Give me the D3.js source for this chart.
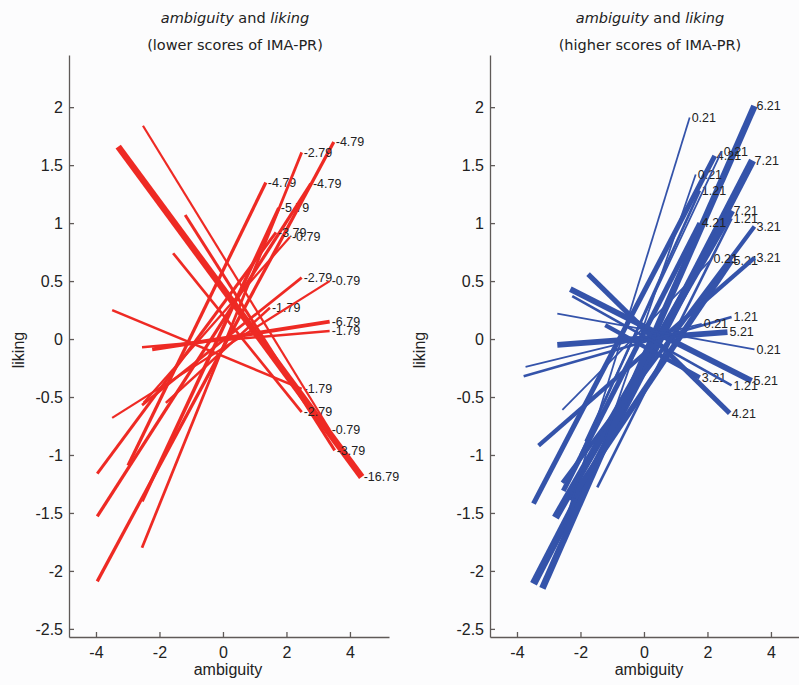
<!DOCTYPE html>
<html>
<head>
<meta charset="utf-8">
<script src="https://cdn.jsdelivr.net/npm/d3@7"></script>
<style>
body{margin:0;background:#fcfcfd;}
svg{display:block;}
.tick text{font-family:"Liberation Sans",Arial,sans-serif;font-size:16px;fill:#222;}
.lbl{font-family:"Liberation Sans",Arial,sans-serif;font-size:12.5px;fill:#222;}
.ttl{font-family:"DejaVu Sans",Verdana,sans-serif;font-size:14.5px;fill:#222;}
.axl{font-family:"Liberation Sans",Arial,sans-serif;font-size:16px;fill:#222;}
</style>
</head>
<body>
<div id="chart"></div>
<script>
//lower scores of IMA-PR (panel izq, rojo)
var lowX0 = [-3.96, -2.55, -2.55, -2.99, -3.96, -3.96, -2.50, -3.49, -2.55, -1.80, -3.30, -2.52, -1.19, -1.57, -3.49, -2.55, -2.23]
var lowY0 = [-2.09, -1.80, -1.40, -1.09, -1.53, -1.16, -0.55, -0.68, -0.57, -0.55, 1.66, 1.84, 1.07, 0.74, 0.25, -0.07, -0.09]
var lowX1 = [3.49, 2.48, 1.76, 1.35, 2.77, 1.67, 2.11, 3.36, 2.48, 1.48, 4.37, 3.36, 3.52, 2.48, 2.48, 3.36, 3.36]
var lowY1 = [1.70, 1.61, 1.13, 1.35, 1.34, 0.92, 0.88, 0.50, 0.53, 0.27, -1.19, -0.78, -0.96, -0.63, -0.43, 0.07, 0.15]
var lowScore = [-4.79, -2.79, -5.79, -4.79, -4.79, -3.79, -0.79, -0.79, -2.79, -1.79, -16.79, -0.79, -3.79, -2.79, -1.79, -1.79, -6.79]

//higher scores of IMA-PR (panel dcho, azul)
var highX0 = [-3.20, -3.48, -2.79, -3.48, -2.54, -2.32, -2.57, -3.32, -1.47, -2.54, -1.63, -2.00, -1.85, -2.57, -3.79, -3.73, -2.73, -2.73, -1.76, -2.32, -2.26, -1.22]
var highY0 = [-2.15, -2.11, -1.54, -1.42, -1.31, -1.39, -1.24, -0.92, -1.28, -1.63, -1.18, -1.00, -0.88, -0.61, -0.32, -0.24, -0.05, 0.22, 0.56, 0.43, 0.37, 0.12]
var highX1 = [3.48, 3.42, 2.76, 2.23, 1.76, 2.76, 3.48, 3.48, 2.76, 1.44, 1.63, 1.76, 2.45, 2.13, 2.76, 1.82, 2.63, 3.48, 2.70, 3.39, 2.76, 1.76]
var highY1 = [2.01, 1.54, 1.11, 1.58, 1.00, 0.68, 0.97, 0.70, 1.04, 1.91, 1.42, 1.28, 1.62, 0.69, 0.19, 0.13, 0.06, -0.09, -0.64, -0.36, -0.40, -0.33]
var highScore = [6.21, 7.21, 7.21, 4.21, 4.21, 5.21, 3.21, 3.21, 1.21, 0.21, 0.21, 1.21, 0.21, 0.21, 1.21, 0.21, 5.21, 0.21, 4.21, 5.21, 1.21, 3.21]

var xTicks = [-4, -2, 0, 2, 4]
var yTicks = [-2.5, -2, -1.5, -1, -0.5, 0, 0.5, 1, 1.5, 2]

var width = 799, height = 685

var svg = d3.select("#chart")
    .append("svg")
    .attr("width", width)
    .attr("height", height)

function panel(cfg){
    var datos = cfg.x0.map((d,i)=>({x0:d, y0:cfg.y0[i], x1:cfg.x1[i], y1:cfg.y1[i], s:cfg.score[i]}))

    var escalaX = d3.scaleLinear()
        .domain([-4.85, 5.23])
        .range([cfg.left, cfg.left + 320])
    var escalaY = d3.scaleLinear()
        .domain([-2.57, 2.45])
        .range([637, 55])
    //grosor de cada linea segun la puntuacion (valor absoluto)
    var grosor = d3.scaleLinear()
        .domain([0, d3.max(datos, d=>Math.abs(d.s))])
        .range([cfg.wmin, cfg.wmax])

//Ejes
    var ejeX = d3.axisBottom(escalaX)
        .tickValues(xTicks)
        .tickFormat(d=>String(d))
        .tickSizeInner(-5).tickSizeOuter(0).tickPadding(10)
    var ejeY = d3.axisLeft(escalaY)
        .tickValues(yTicks)
        .tickFormat(d=>String(d))
        .tickSizeInner(-5).tickSizeOuter(0).tickPadding(6)

    var gx = svg.append("g")
        .attr("transform","translate(0,637)")
        .call(ejeX)
    var gy = svg.append("g")
        .attr("transform","translate("+cfg.left+",0)")
        .call(ejeY)
    svg.selectAll(".domain, .tick line").attr("stroke", "#5f5a58").attr("stroke-width", 1.3)
    gx.selectAll("text").attr("font-size", null)
    gy.selectAll("text").attr("font-size", null)

//Lineas (las gruesas primero)
    var orden = datos.slice().sort((a,b)=>Math.abs(b.s)-Math.abs(a.s))
    var g = svg.append("g")
    orden.forEach(d=>{
        g.append("line")
            .attr("x1", escalaX(d.x0)).attr("y1", escalaY(d.y0))
            .attr("x2", escalaX(d.x1)).attr("y2", escalaY(d.y1))
            .attr("stroke", cfg.color)
            .attr("stroke-width", grosor(Math.abs(d.s)))
        g.append("text")
            .attr("class","lbl")
            .attr("x", escalaX(d.x1) + 2)
            .attr("y", escalaY(d.y1))
            .attr("dy", "0.35em")
            .text(d.s.toFixed(2))
    })

//Titulos
    var t = svg.append("text")
        .attr("class","ttl")
        .attr("x", cfg.mid).attr("y", 23)
        .attr("text-anchor","middle")
    t.append("tspan").attr("font-style","italic").text("ambiguity")
    t.append("tspan").text(" and ")
    t.append("tspan").attr("font-style","italic").text("liking")
    svg.append("text")
        .attr("class","ttl")
        .attr("x", cfg.mid).attr("y", 50)
        .attr("text-anchor","middle")
        .text(cfg.sub)

    svg.append("text")
        .attr("class","axl")
        .attr("x", escalaX(0) + 5).attr("y", 675)
        .attr("text-anchor","middle")
        .text("ambiguity")
    svg.append("text")
        .attr("class","axl")
        .attr("transform","translate("+cfg.ylab+",350) rotate(-90)")
        .attr("text-anchor","middle")
        .text("liking")
}

panel({x0:lowX0, y0:lowY0, x1:lowX1, y1:lowY1, score:lowScore, left:69, mid:235, ylab:24,
       wmin:2, wmax:6.5, color:"#ee2a24", sub:"(lower scores of IMA-PR)"})
panel({x0:highX0, y0:highY0, x1:highX1, y1:highY1, score:highScore, left:490, mid:650, ylab:425,
       wmin:1.6, wmax:7.5, color:"#3453aa", sub:"(higher scores of IMA-PR)"})
</script>
</body>
</html>
